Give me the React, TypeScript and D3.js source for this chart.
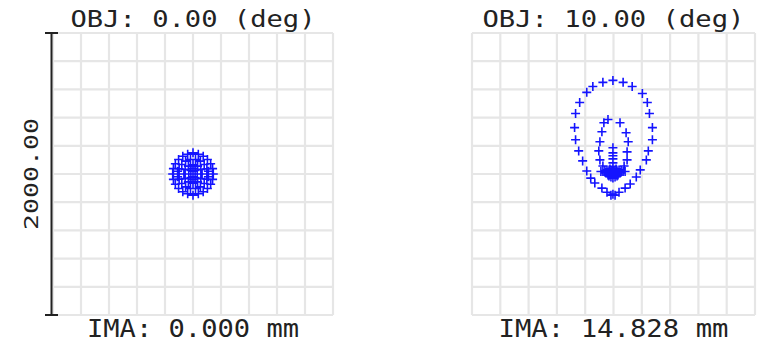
import React from "react";
import * as d3 from "d3";

// Spot coordinates in micrometres (x, y), y positive upward
const field0Outer: [number, number][] = [
  [145, 0], [140, 38], [126, 73], [103, 103], [73, 126], [38, 140], [0, 150],
  [-38, 140], [-73, 126], [-103, 103], [-126, 73], [-140, 38], [-145, 0],
  [-140, -38], [-126, -73], [-103, -103], [-73, -126], [-38, -140], [0, -150],
  [38, -140], [73, -126], [103, -103], [126, -73], [140, -38],
];
const field0Middle: [number, number][] = [
  [105, 0], [99, 36], [80, 67], [53, 91], [18, 103], [-18, 103], [-53, 91],
  [-80, 67], [-99, 36], [-105, 0], [-99, -36], [-80, -67], [-53, -91],
  [-18, -103], [18, -103], [53, -91], [80, -67], [99, -36],
  [-110, 20], [-110, -20], [110, 20], [110, -20],
];
const field0Inner: [number, number][] = [
  [65, 0], [56, 33], [33, 56], [0, 65], [-33, 56], [-56, 33], [-65, 0],
  [-56, -33], [-33, -56], [0, -65], [33, -56], [56, -33],
  [30, 0], [15, 26], [-15, 26], [-30, 0], [-15, -26], [15, -26],
  [0, 0], [0, 20], [0, -20], [0, 40], [0, -40],
];

const field10Outer: [number, number][] = [
  [-4, 664], [-75, 650], [68, 650], [132, 621], [-146, 621], [-189, 579],
  [204, 571], [-239, 507], [239, 507], [-268, 429], [254, 429], [-275, 329],
  [275, 329], [-268, 243], [275, 243], [-246, 164], [246, 164], [-218, 93],
  [232, 100], [-189, 21], [189, 29], [-161, -29], [161, -21], [-132, -64],
  [118, -71], [-82, -100], [82, -100], [-46, -129], [39, -129], [-4, -143],
  [-18, -150], [11, -150],
];
const field10Inner: [number, number][] = [
  [-39, 386], [-68, 364], [46, 364], [-82, 300], [89, 293], [-96, 229],
  [104, 229], [-104, 164], [96, 157], [-96, 100], [96, 100], [-75, 57],
  [75, 57],
];
const field10Core: [number, number][] = [
  [-4, 186], [-4, 150], [-4, 129], [-4, 107], [-4, 79], [-4, 55],
  [-4, 14], [-18, 14], [11, 14], [-32, 14], [25, 14], [-46, 14], [39, 14],
  [-61, 14], [54, 14], [-75, 18], [68, 18], [-89, 18], [82, 18],
  [-11, 0], [4, 0], [-25, 0], [18, 0], [-39, -7], [32, -7], [-4, -14],
  [-4, -29], [-18, -21], [11, -21], [-11, 29], [4, 29], [-25, 36], [18, 36],
  [-46, 29], [39, 29], [-4, 43],
  [-11, 7], [4, 7], [-25, 7], [18, 7], [-54, 7], [47, 7], [-11, 21], [4, 21],
  [-32, 21], [25, 21], [-61, 25], [54, 25], [-18, -7], [11, -7], [-4, -4],
  [-4, 25], [-4, 36], [-32, -14], [25, -14],
];

const panelTitles = ["OBJ: 0.00 (deg)", "OBJ: 10.00 (deg)"];
const panelLabels = ["IMA: 0.000 mm", "IMA: 14.828 mm"];
const scaleLabel = "2000.00";
const scaleSize = 2000; // micrometres across the box
const gridTicks = d3.range(-1000, 1001, 200);

const panels = [
  { left: 53, right: 333, title: panelTitles[0], label: panelLabels[0], titleLen: 245, labelLen: 212,
    spots: [...field0Outer, ...field0Middle, ...field0Inner] },
  { left: 472, right: 755, title: panelTitles[1], label: panelLabels[1], titleLen: 262, labelLen: 230,
    spots: [...field10Outer, ...field10Inner, ...field10Core] },
];

const TOP = 33;
const BOTTOM = 315;
const FONT = "'DejaVu Sans Mono', monospace";
const TEXT = "#222";

export default function App() {
  return (
    <svg width={768} height={344} style={{ position: "absolute", left: 0, top: 0, background: "#fff" }}>
      {panels.map((p, i) => {
        const x = d3.scaleLinear().domain([-scaleSize / 2, scaleSize / 2]).range([p.left, p.right]);
        const y = d3.scaleLinear().domain([-scaleSize / 2, scaleSize / 2]).range([BOTTOM, TOP]);
        const cx = (p.left + p.right) / 2;
        const marker = p.spots
          .map(([a, b]) => {
            const px = x(a), py = y(b);
            return `M${px - 4.5},${py}h9M${px},${py - 4.5}v9`;
          })
          .join("");
        return (
          <g key={i}>
            {gridTicks.map((t) => (
              <g key={t}>
                <line x1={x(t)} x2={x(t)} y1={TOP} y2={BOTTOM} stroke="#e6e6e6" strokeWidth={2.2} />
                <line x1={p.left} x2={p.right} y1={y(t)} y2={y(t)} stroke="#e6e6e6" strokeWidth={2.2} />
              </g>
            ))}
            <path d={marker} stroke="#1414ff" strokeWidth={1.6} fill="none" />
            <text x={cx} y={27} textAnchor="middle" fontFamily={FONT} fontSize={23} fill={TEXT}
              textLength={p.titleLen} lengthAdjust="spacingAndGlyphs">{p.title}</text>
            <text x={cx} y={337} textAnchor="middle" fontFamily={FONT} fontSize={24} fill={TEXT}
              textLength={p.labelLen} lengthAdjust="spacingAndGlyphs">{p.label}</text>
          </g>
        );
      })}
      <g stroke="#222" strokeWidth={2}>
        <line x1={51.5} x2={51.5} y1={TOP} y2={BOTTOM} />
        <line x1={45} x2={58} y1={TOP} y2={TOP} />
        <line x1={45} x2={58} y1={BOTTOM} y2={BOTTOM} />
      </g>
      <text transform={`translate(38,${(TOP + BOTTOM) / 2}) rotate(-90)`} textAnchor="middle"
        fontFamily={FONT} fontSize={19} fill={TEXT} textLength={112} lengthAdjust="spacingAndGlyphs">
        {scaleLabel}
      </text>
    </svg>
  );
}
